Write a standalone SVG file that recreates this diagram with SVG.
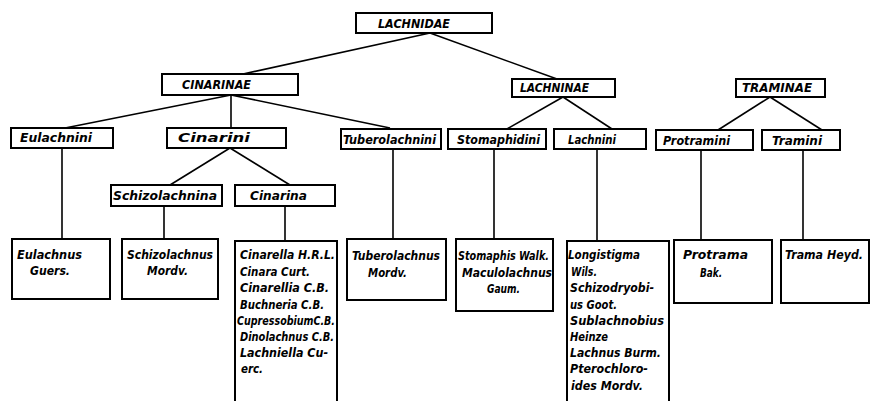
<svg xmlns="http://www.w3.org/2000/svg" width="875" height="401" viewBox="0 0 875 401">
<style>
.box { fill: #fff; stroke: #000; stroke-width: 2; }
#connectors line { stroke: #000; stroke-width: 1.6; }
text { font-family: "DejaVu Sans Condensed", "DejaVu Sans", sans-serif; font-style: italic; font-weight: bold; font-size: 12px; fill: #000; }
</style>
<rect width="875" height="401" style="fill:#fff;stroke:none"/>
<g id="connectors">
<line x1="430" y1="33" x2="243" y2="74"/>
<line x1="430" y1="33" x2="557" y2="79"/>
<line x1="231" y1="95" x2="65" y2="128"/>
<line x1="231" y1="95" x2="231" y2="128"/>
<line x1="231" y1="95" x2="390" y2="128"/>
<line x1="230" y1="148" x2="170" y2="185"/>
<line x1="230" y1="148" x2="290" y2="185"/>
<line x1="62" y1="148" x2="62" y2="239"/>
<line x1="164" y1="206" x2="164" y2="239"/>
<line x1="285" y1="206" x2="285" y2="241"/>
<line x1="393" y1="148" x2="393" y2="239"/>
<line x1="563" y1="97" x2="507" y2="129"/>
<line x1="563" y1="97" x2="612" y2="129"/>
<line x1="494" y1="149" x2="494" y2="239"/>
<line x1="597" y1="149" x2="597" y2="241"/>
<line x1="770" y1="97" x2="718" y2="130"/>
<line x1="770" y1="97" x2="822" y2="130"/>
<line x1="701" y1="150" x2="701" y2="240"/>
<line x1="803" y1="150" x2="803" y2="240"/>
</g>
<g id="lachnidae"><rect class="box" x="356" y="13" width="136" height="20"/><text x="378" y="28" textLength="72" lengthAdjust="spacingAndGlyphs">LACHNIDAE</text></g>
<g id="cinarinae"><rect class="box" x="162" y="74" width="136" height="21"/><text x="182" y="89" textLength="69" lengthAdjust="spacingAndGlyphs">CINARINAE</text></g>
<g id="lachninae"><rect class="box" x="512" y="79" width="103" height="18"/><text x="520" y="92" textLength="69" lengthAdjust="spacingAndGlyphs">LACHNINAE</text></g>
<g id="traminae"><rect class="box" x="736" y="79" width="89" height="18"/><text x="742" y="92" textLength="70" lengthAdjust="spacingAndGlyphs">TRAMINAE</text></g>
<g id="eulachnini"><rect class="box" x="11" y="128" width="102" height="20"/><text x="20" y="142" textLength="72" lengthAdjust="spacingAndGlyphs">Eulachnini</text></g>
<g id="cinarini"><rect class="box" x="167" y="128" width="119" height="20"/><text x="178" y="142" textLength="72" lengthAdjust="spacingAndGlyphs">Cinarini</text></g>
<g id="tuberolachnini"><rect class="box" x="341" y="129" width="100" height="20"/><text x="343" y="144" textLength="93" lengthAdjust="spacingAndGlyphs">Tuberolachnini</text></g>
<g id="stomaphidini"><rect class="box" x="448" y="129" width="98" height="20"/><text x="457" y="144" textLength="83" lengthAdjust="spacingAndGlyphs">Stomaphidini</text></g>
<g id="lachnini"><rect class="box" x="554" y="129" width="92" height="20"/><text x="568" y="144" textLength="48" lengthAdjust="spacingAndGlyphs">Lachnini</text></g>
<g id="protramini"><rect class="box" x="656" y="130" width="97" height="20"/><text x="663" y="145" textLength="67" lengthAdjust="spacingAndGlyphs">Protramini</text></g>
<g id="tramini"><rect class="box" x="762" y="130" width="78" height="20"/><text x="772" y="145" textLength="50" lengthAdjust="spacingAndGlyphs">Tramini</text></g>
<g id="schizolachnina"><rect class="box" x="111" y="185" width="111" height="21"/><text x="113" y="200" textLength="104" lengthAdjust="spacingAndGlyphs">Schizolachnina</text></g>
<g id="cinarina"><rect class="box" x="235" y="185" width="100" height="21"/><text x="250" y="200" textLength="57" lengthAdjust="spacingAndGlyphs">Cinarina</text></g>
<g id="eulachnus"><rect class="box" x="12" y="239" width="98" height="60"/><text x="17" y="259" textLength="65" lengthAdjust="spacingAndGlyphs">Eulachnus</text><text x="30" y="275" textLength="40" lengthAdjust="spacingAndGlyphs">Guers.</text></g>
<g id="schizolachnus"><rect class="box" x="122" y="239" width="96" height="60"/><text x="127" y="259" textLength="86" lengthAdjust="spacingAndGlyphs">Schizolachnus</text><text x="147" y="275" textLength="41" lengthAdjust="spacingAndGlyphs">Mordv.</text></g>
<g id="cinarella"><path class="box" d="M235,405 V241 H337 V405"/>
<text x="240" y="259" textLength="95" lengthAdjust="spacingAndGlyphs">Cinarella H.R.L.</text>
<text x="240" y="276" textLength="70" lengthAdjust="spacingAndGlyphs">Cinara Curt.</text>
<text x="240" y="292" textLength="89" lengthAdjust="spacingAndGlyphs">Cinarellia C.B.</text>
<text x="240" y="309" textLength="84" lengthAdjust="spacingAndGlyphs">Buchneria C.B.</text>
<text x="237" y="325" textLength="98" lengthAdjust="spacingAndGlyphs">CupressobiumC.B.</text>
<text x="240" y="341" textLength="94" lengthAdjust="spacingAndGlyphs">Dinolachnus C.B.</text>
<text x="240" y="357" textLength="88" lengthAdjust="spacingAndGlyphs">Lachniella Cu-</text>
<text x="241" y="373" textLength="22" lengthAdjust="spacingAndGlyphs">erc.</text></g>
<g id="tuberolachnus"><rect class="box" x="347" y="239" width="99" height="61"/><text x="352" y="260" textLength="88" lengthAdjust="spacingAndGlyphs">Tuberolachnus</text><text x="368" y="277" textLength="39" lengthAdjust="spacingAndGlyphs">Mordv.</text></g>
<g id="stomaphis"><rect class="box" x="456" y="239" width="97" height="72"/><text x="458" y="260" textLength="91" lengthAdjust="spacingAndGlyphs">Stomaphis Walk.</text><text x="462" y="277" textLength="90" lengthAdjust="spacingAndGlyphs">Maculolachnus</text><text x="487" y="293" textLength="33" lengthAdjust="spacingAndGlyphs">Gaum.</text></g>
<g id="longistigma"><path class="box" d="M567,405 V241 H669 V405"/>
<text x="568" y="259" textLength="72" lengthAdjust="spacingAndGlyphs">Longistigma</text>
<text x="571" y="276" textLength="26" lengthAdjust="spacingAndGlyphs">Wils.</text>
<text x="570" y="292" textLength="84" lengthAdjust="spacingAndGlyphs">Schizodryobi-</text>
<text x="570" y="309" textLength="47" lengthAdjust="spacingAndGlyphs">us Goot.</text>
<text x="570" y="325" textLength="94" lengthAdjust="spacingAndGlyphs">Sublachnobius</text>
<text x="570" y="341" textLength="38" lengthAdjust="spacingAndGlyphs">Heinze</text>
<text x="570" y="357" textLength="91" lengthAdjust="spacingAndGlyphs">Lachnus Burm.</text>
<text x="570" y="373" textLength="78" lengthAdjust="spacingAndGlyphs">Pterochloro-</text>
<text x="571" y="390" textLength="72" lengthAdjust="spacingAndGlyphs">ides Mordv.</text></g>
<g id="protrama"><rect class="box" x="674" y="240" width="98" height="63"/><text x="683" y="259" textLength="65" lengthAdjust="spacingAndGlyphs">Protrama</text><text x="700" y="277" textLength="22" lengthAdjust="spacingAndGlyphs">Bak.</text></g>
<g id="trama"><rect class="box" x="781" y="240" width="88" height="63"/><text x="785" y="259" textLength="78" lengthAdjust="spacingAndGlyphs">Trama Heyd.</text></g>
</svg>
